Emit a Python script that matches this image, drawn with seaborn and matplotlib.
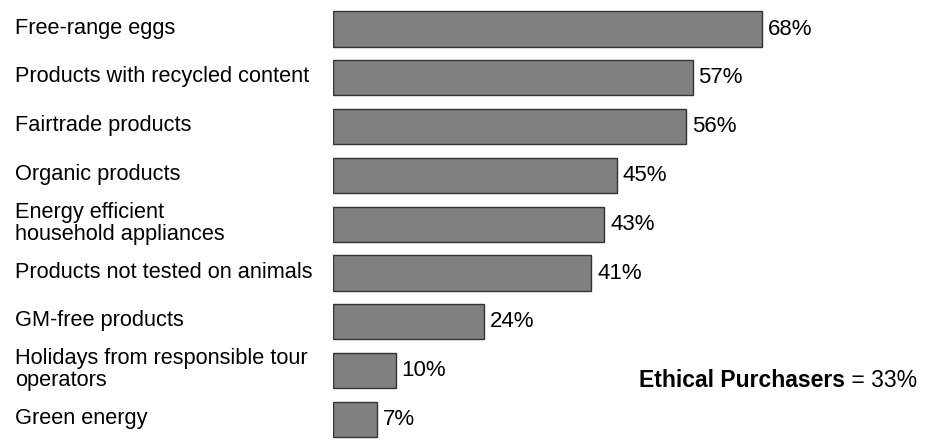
import matplotlib
matplotlib.use("Agg")
import matplotlib.pyplot as plt
import matplotlib.transforms as mtransforms
import seaborn as sns
import pandas as pd

categories = [
    "Free-range eggs",
    "Products with recycled content",
    "Fairtrade products",
    "Organic products",
    "Energy efficient\nhousehold appliances",
    "Products not tested on animals",
    "GM-free products",
    "Holidays from responsible tour\noperators",
    "Green energy",
]
values = [68, 57, 56, 45, 43, 41, 24, 10, 7]
summary_label = "Ethical Purchasers"
summary_value = " = 33%"

sns.set_theme(style="white")
plt.rcParams["font.family"] = ["Liberation Sans", "DejaVu Sans"]

W, H = 925, 443
fig = plt.figure(figsize=(W / 100, H / 100), dpi=100)
ax = fig.add_axes([332.5 / W, -0.8 / H, (W - 332.5) / W, 439.2 / H])

df = pd.DataFrame({"category": categories, "value": values})
sns.barplot(data=df, x="value", y="category", orient="h", color="#808080",
            saturation=1, width=0.72, edgecolor="#333333", linewidth=1, ax=ax)

ax.set_xlim(0, (W - 332.5) / 6.316)
ax.set_ylim(len(categories) - 0.5, -0.5)
ax.set_xlabel("")
ax.set_ylabel("")
ax.set_xticks([])
ax.set_yticks([])
for s in ax.spines.values():
    s.set_visible(False)

for c in ax.containers:
    ax.bar_label(c, labels=[f"{v}%" for v in values], padding=4.3,
                 fontsize=16, color="#000000")

trans = mtransforms.blended_transform_factory(fig.transFigure, ax.transData)
offset = mtransforms.ScaledTranslation(0, 1 / 100, fig.dpi_scale_trans)
for i, cat in enumerate(categories):
    ax.text(15 / W, i, cat, transform=trans + offset, ha="left", va="center",
            fontsize=15.7, color="#000000", linespacing=1.05)

t2 = fig.text(917 / W, (H - 387) / H, summary_value, ha="right", va="baseline",
              fontsize=16.5, color="#000000")
fig.canvas.draw()
bb = t2.get_window_extent()
fig.text(bb.x0 / W, (H - 387) / H, summary_label, ha="right", va="baseline",
         fontsize=16.5, fontweight="bold", color="#000000")

fig.savefig("out.png", dpi=100)
